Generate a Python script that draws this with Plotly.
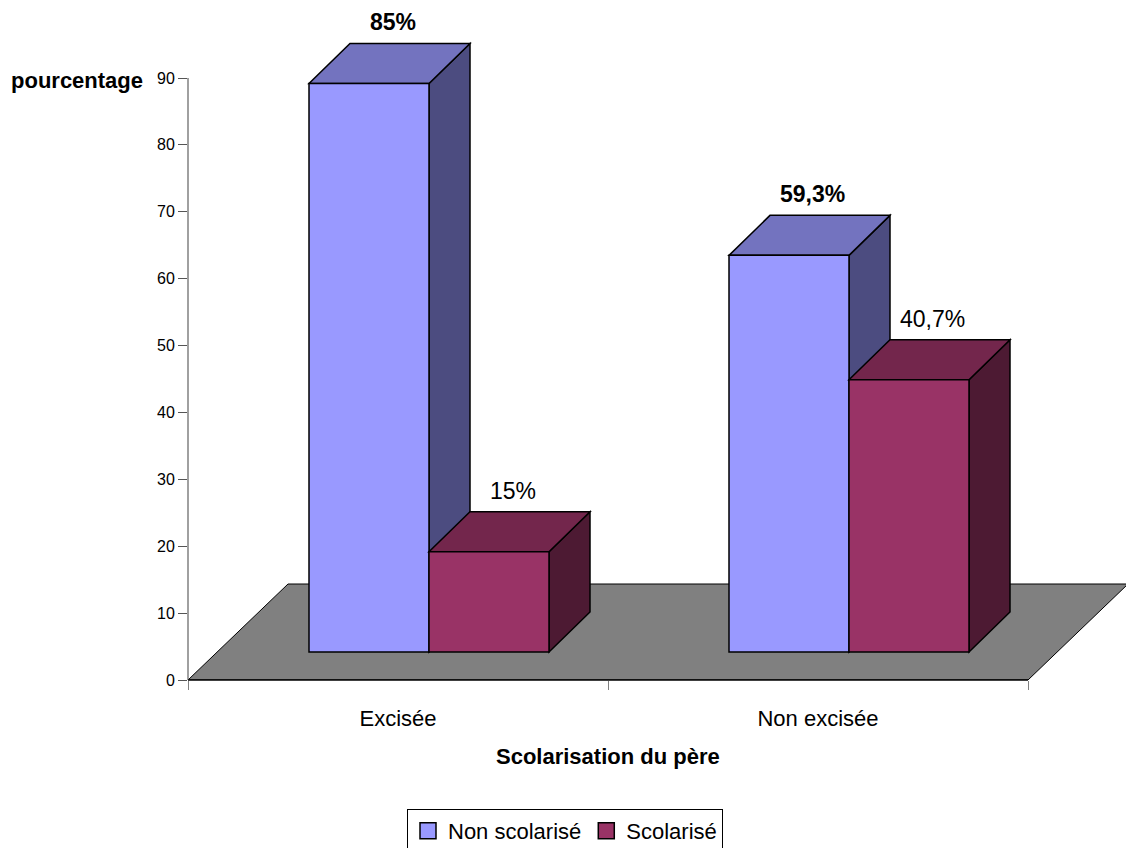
import plotly.graph_objects as go

# Data
categories = ["Excisée", "Non excisée"]
series_names = ["Non scolarisé", "Scolarisé"]
non_scolarise = [85.0, 59.3]
scolarise = [15.0, 40.7]
y_ticks = list(range(0, 100, 10))

series_values = [non_scolarise, scolarise]
label_bold = [True, False]

# Face colours per series: front, top, side
face_colors = [
    ("#9999FF", "#7373BF", "#4C4C80"),
    ("#993366", "#73264C", "#4D1A33"),
]

FONT = "Liberation Sans, Arial, sans-serif"

# Canvas / plot geometry (pixels)
W, H = 1126, 848
M_L, M_R, M_T, M_B = 188, 0, 0, 168
PX_PER_X = 420.0                 # pixels per category unit
PX_PER_Y = 602.0 / 90.0          # pixels per percentage point
plot_w = W - M_L - M_R
plot_h = H - M_T - M_B
x_max = plot_w / PX_PER_X
y_max = plot_h / PX_PER_Y

# Oblique depth offsets (pixels -> data units)
def dx(px):
    return px / PX_PER_X

def dy(px):
    return px / PX_PER_Y

floor_dx, floor_dy = dx(100), dy(96)
front_dx, front_dy = dx(31), dy(28)
back_dx, back_dy = dx(41), dy(40)
bar_w = dx(120)


def path(points):
    return "M " + " L ".join(f"{x:.5f},{y:.5f}" for x, y in points) + " Z"


shapes = []
n_cat = len(categories)

# Floor
shapes.append(dict(
    type="path", xref="x", yref="y",
    path=path([(0, 0), (n_cat, 0), (n_cat + floor_dx, floor_dy), (floor_dx, floor_dy)]),
    fillcolor="#808080", line=dict(color="#000000", width=1),
))

annotations = []
for ci, cat in enumerate(categories):
    center = ci + 0.5
    for si, vals in enumerate(series_values):
        v = vals[ci]
        front, top, side = face_colors[si]
        x0 = center - bar_w + si * bar_w + front_dx
        x1 = x0 + bar_w
        y0 = front_dy
        y1 = front_dy + v
        edge = dict(color="#000000", width=1.5)
        shapes.append(dict(type="path", xref="x", yref="y", fillcolor=side, line=edge,
                           path=path([(x1, y0), (x1 + back_dx, y0 + back_dy),
                                      (x1 + back_dx, y1 + back_dy), (x1, y1)])))
        shapes.append(dict(type="path", xref="x", yref="y", fillcolor=top, line=edge,
                           path=path([(x0, y1), (x1, y1),
                                      (x1 + back_dx, y1 + back_dy), (x0 + back_dx, y1 + back_dy)])))
        shapes.append(dict(type="path", xref="x", yref="y", fillcolor=front, line=edge,
                           path=path([(x0, y0), (x1, y0), (x1, y1), (x0, y1)])))
        txt = f"{v:g}%".replace(".", ",")
        if label_bold[si]:
            txt = f"<b>{txt}</b>"
        annotations.append(dict(
            x=(x0 + x1) / 2 + back_dx / 2, y=y1 + back_dy, xref="x", yref="y",
            text=txt, showarrow=False, xanchor="center", yanchor="middle", yshift=21,
            xshift=3, font=dict(family=FONT, size=23, color="#000000"),
        ))

# Axis lines
shapes.append(dict(type="line", xref="paper", yref="y", x0=0, x1=0, y0=0, y1=y_ticks[-1],
                   line=dict(color="#808080", width=1.5)))
shapes.append(dict(type="line", xref="x", yref="paper", x0=0, x1=n_cat, y0=0, y1=0,
                   line=dict(color="#000000", width=1.5)))

# Axis titles
annotations.append(dict(
    x=-43 / plot_w, y=y_ticks[-1], xref="paper", yref="y", xanchor="right", yanchor="middle",
    yshift=-2, text="<b>pourcentage</b>", showarrow=False,
    font=dict(family=FONT, size=22, color="#000000"),
))
annotations.append(dict(
    x=n_cat / 2, y=-76 / plot_h, xref="x", yref="paper", xanchor="center", yanchor="middle",
    text="<b>Scolarisation du père</b>", showarrow=False,
    font=dict(family=FONT, size=22, color="#000000"),
))

fig = go.Figure()
for si, name in enumerate(series_names):
    fig.add_trace(go.Scatter(
        x=[None], y=[None], mode="markers", name=name,
        marker=dict(symbol="square", size=16, color=face_colors[si][0],
                    line=dict(color="#000000", width=1.5)),
    ))

fig.update_layout(
    width=W, height=H, autosize=False,
    margin=dict(l=M_L, r=M_R, t=M_T, b=M_B, pad=0, autoexpand=False),
    paper_bgcolor="white", plot_bgcolor="white",
    shapes=shapes, annotations=annotations,
    showlegend=True,
    legend=dict(
        orientation="h", xanchor="center", yanchor="top",
        x=(565 - M_L) / plot_w, y=-(809 - (M_T + plot_h)) / plot_h,
        bordercolor="#000000", borderwidth=1, bgcolor="white",
        font=dict(family=FONT, size=22, color="#000000"),
        itemclick=False, itemdoubleclick=False,
    ),
    xaxis=dict(
        range=[0, x_max], showgrid=False, zeroline=False, showline=False,
        tickmode="array", tickvals=[i + 0.5 for i in range(n_cat)], ticktext=categories,
        ticks="", ticklabelstandoff=23, automargin=False,
        tickfont=dict(family=FONT, size=22, color="#000000"),
        minor=dict(tickmode="array", tickvals=list(range(n_cat + 1)), ticks="outside",
                   ticklen=9, tickwidth=1, tickcolor="#808080", showgrid=False),
        fixedrange=True,
    ),
    yaxis=dict(
        range=[0, y_max], showgrid=False, zeroline=False, showline=False,
        tickmode="array", tickvals=y_ticks, ticktext=[str(t) for t in y_ticks],
        ticks="outside", ticklen=9, tickwidth=1, tickcolor="#555555", automargin=False,
        tickfont=dict(family=FONT, size=16, color="#000000"),
        fixedrange=True,
    ),
)

fig.write_html("out.html")
